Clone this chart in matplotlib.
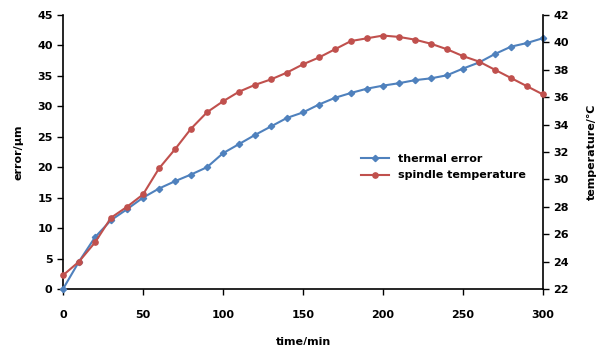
import matplotlib
matplotlib.use("Agg")
import matplotlib.pyplot as plt

# time in minutes
time_min = [0, 10, 20, 30, 40, 50, 60, 70, 80, 90, 100, 110, 120, 130, 140, 150,
            160, 170, 180, 190, 200, 210, 220, 230, 240, 250, 260, 270, 280, 290, 300]

# thermal error, um (left axis)
thermal_error = [0.0, 4.5, 8.5, 11.3, 13.1, 15.0, 16.5, 17.7, 18.8, 20.0, 22.3, 23.8,
                 25.3, 26.7, 28.1, 29.0, 30.3, 31.4, 32.2, 32.9, 33.4, 33.8, 34.3,
                 34.6, 35.1, 36.2, 37.2, 38.6, 39.8, 40.4, 41.2]

# spindle temperature, degC (right axis)
spindle_temp = [23.0, 24.0, 25.4, 27.2, 28.0, 28.9, 30.8, 32.2, 33.7, 34.9, 35.7, 36.4,
                36.9, 37.3, 37.8, 38.4, 38.9, 39.5, 40.1, 40.3, 40.5, 40.4, 40.2,
                39.9, 39.5, 39.0, 38.6, 38.0, 37.4, 36.8, 36.2]

BLUE = "#4F81BD"
RED = "#C0504D"

plt.rcParams["font.family"] = ["DejaVu Sans"]
plt.rcParams["font.weight"] = "bold"
plt.rcParams["font.size"] = 8

fig = plt.figure(figsize=(5.97, 3.45), dpi=100)
ax = fig.add_axes([63 / 597, 1 - 289 / 345, 480 / 597, 274 / 345])
ax2 = ax.twinx()

l1, = ax.plot(time_min, thermal_error, color=BLUE, lw=1.5, marker="D", ms=3.2,
              label="thermal error", clip_on=False, zorder=3)
l2, = ax2.plot(time_min, spindle_temp, color=RED, lw=1.5, marker="o", ms=3.8,
               label="spindle temperature", clip_on=False, zorder=3)

ax.set_xlim(0, 300)
ax.set_ylim(0, 45)
ax.set_xticks(range(0, 301, 50))
ax.set_yticks(range(0, 46, 5))
ax2.set_ylim(22, 42)
ax2.set_yticks(range(22, 43, 2))

for a in (ax, ax2):
    a.spines["top"].set_visible(False)
    a.tick_params(direction="out", length=4, width=1, labelsize=8)
    for s in a.spines.values():
        s.set_linewidth(1.2)
ax.spines["right"].set_visible(False)
ax2.spines["left"].set_visible(False)
ax2.spines["bottom"].set_visible(False)

ax.tick_params(axis="x", pad=11)
ax.set_xlabel("time/min", fontsize=8, fontweight="bold", labelpad=12)
ax.set_ylabel("error/\u03bcm", fontsize=8, fontweight="bold", labelpad=10)
ax2.set_ylabel("temperature/\u2103", fontsize=8, fontweight="bold", labelpad=13)

ax.legend(handles=[l1, l2], loc="upper left", bbox_to_anchor=(0.6, 0.53),
          frameon=False, fontsize=8, handlelength=2.5, labelspacing=0.6)

fig.savefig("out.png", dpi=100)
